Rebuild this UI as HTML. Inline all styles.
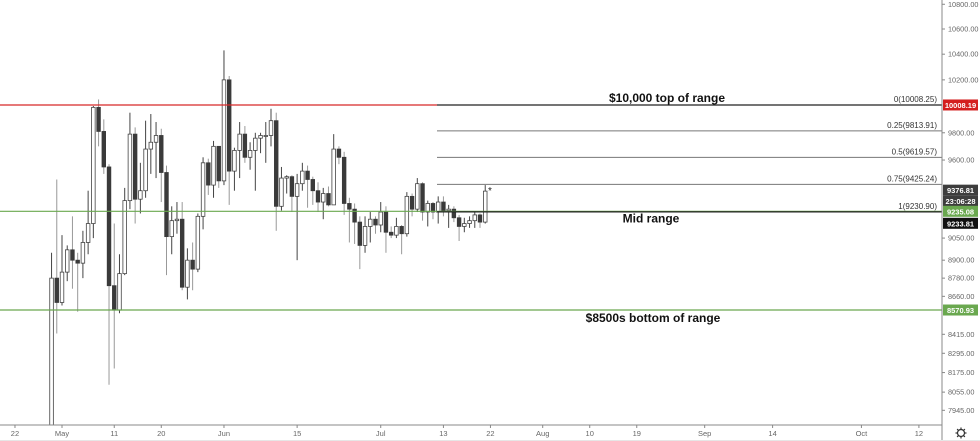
<!DOCTYPE html>
<html><head><meta charset="utf-8"><style>
body{margin:0;background:#fff;font-family:"Liberation Sans",sans-serif}
svg{display:block}
</style></head><body>
<svg id="c" width="980" height="441" xmlns="http://www.w3.org/2000/svg">
<rect width="980" height="441" fill="#fff"/>
<g id="candles"></g>
<g id="overlay"></g>
<g id="axes"></g>
</svg>
<script>
const dates=["Apr29","Apr30","May1","May2","May3","May4","May5","May6","May7","May8","May9","May10","May11","May12","May13","May14","May15","May16","May17","May18","May19","May20","May21","May22","May23","May24","May25","May26","May27","May28","May29","May30","May31","Jun1","Jun2","Jun3","Jun4","Jun5","Jun6","Jun7","Jun8","Jun9","Jun10","Jun11","Jun12","Jun13","Jun14","Jun15","Jun16","Jun17","Jun18","Jun19","Jun20","Jun21","Jun22","Jun23","Jun24","Jun25","Jun26","Jun27","Jun28","Jun29","Jun30","Jul1","Jul2","Jul3","Jul4","Jul5","Jul6","Jul7","Jul8","Jul9","Jul10","Jul11","Jul12","Jul13","Jul14","Jul15","Jul16","Jul17","Jul18","Jul19","Jul20","Jul21"];
const opens=[7760,8780,8620,8820,8970,8900,8880,9020,9150,9990,9810,9550,8730,8570,8810,9310,9790,9320,9380,9680,9730,9780,9510,9060,9170,9180,8720,8900,8840,9200,9580,9420,9700,9450,10200,9520,9670,9790,9620,9670,9760,9780,9780,9890,9270,9470,9480,9340,9430,9520,9460,9380,9300,9360,9280,9680,9620,9290,9250,9160,9000,9130,9180,9140,9230,9090,9070,9130,9080,9340,9250,9430,9230,9290,9230,9300,9240,9250,9190,9130,9150,9170,9210,9160];
const highs=[8950,9460,9070,9000,9200,8950,9100,9380,10000,10050,9900,9570,9150,8940,9400,9950,9840,9580,9890,9940,9880,9830,9560,9270,9300,9300,8980,9020,9220,9620,9610,9740,9700,10430,10230,9690,9880,9850,9730,9800,9800,9880,9980,9950,9550,9490,9490,9500,9580,9560,9480,9440,9400,9410,9790,9700,9660,9330,9290,9200,9200,9230,9200,9300,9270,9130,9190,9140,9370,9360,9470,9440,9310,9300,9340,9340,9280,9270,9210,9190,9200,9230,9220,9420];
const lows=[7730,8420,8600,8760,8710,8560,8780,8940,9050,9700,9500,8100,8200,8550,8800,9250,9150,9220,9330,9500,9470,9300,8800,8940,9080,8700,8640,8700,8820,9110,9350,9330,9400,9420,9280,9380,9470,9580,9530,9380,9650,9580,9700,9100,9240,9360,9230,8900,9380,9260,9280,9230,9180,9270,9280,9570,9210,9020,9010,8840,8950,9020,9080,9090,8950,9050,9050,8940,9060,9200,9230,9170,9130,9180,9150,9200,9120,9160,9030,9090,9120,9120,9120,9150];
const closes=[8780,8620,8820,8970,8900,8880,9020,9150,9990,9810,9550,8730,8570,8810,9310,9790,9320,9380,9680,9730,9780,9510,9060,9170,9180,8720,8900,8840,9200,9580,9420,9700,9450,10200,9520,9670,9790,9620,9670,9760,9780,9780,9890,9270,9470,9480,9340,9430,9520,9460,9380,9300,9360,9280,9680,9620,9290,9250,9160,9000,9130,9180,9140,9230,9090,9070,9130,9080,9340,9250,9430,9230,9290,9230,9300,9240,9250,9190,9130,9150,9170,9210,9160,9377];
const priceTicks=["10800.00","10600.00","10400.00","10200.00","9800.00","9600.00","9050.00","8900.00","8780.00","8660.00","8415.00","8295.00","8175.00","8055.00","7945.00"];
const xTickLabels=["22","May","11","20","Jun","15","Jul","13","22","Aug","10","19","Sep","14","Oct","12"];
const xTickDays=[-9,0,10,19,31,45,61,73,82,92,101,110,123,136,153,164];
const fibLevels=[10008.25,9813.91,9619.57,9425.24,9230.90];
const fibNames=["0","0.25","0.5","0.75","1"];

const NS="http://www.w3.org/2000/svg";
const PPD=5.225, X0=62, PLOT_R=942, AXIS_Y=425;
function xDay(d){return X0+PPD*d;}
function y(p){return 105-(Math.log(p)-Math.log(10008))*1322.6;}
function mk(tag,attrs,parent){const e=document.createElementNS(NS,tag);for(const k in attrs)e.setAttribute(k,attrs[k]);parent.appendChild(e);return e;}
const cg=document.getElementById('candles'),og=document.getElementById('overlay'),ag=document.getElementById('axes');

let l=mk('line',{x1:0,x2:437,y1:y(10008.19),y2:y(10008.19),stroke:'#d62828','stroke-width':1.3},og);

l=mk('line',{x1:0,x2:PLOT_R,y1:y(9235.08),y2:y(9235.08),stroke:'#6aa84f','stroke-width':1.2},og);

l=mk('line',{x1:0,x2:PLOT_R,y1:y(8570.93),y2:y(8570.93),stroke:'#6aa84f','stroke-width':1.2},og);

fibLevels.forEach((v,i)=>{
  const col=(i==0||i==4)?'#222':'#777';
  const ln=mk('line',{x1:437,x2:PLOT_R,y1:y(v),y2:y(v),stroke:col,'stroke-width':(i==0||i==4)?1.3:1},og);
  
  
  const t=mk('text',{x:937,y:y(v)-3,'text-anchor':'end','font-size':8,fill:'#333'},og);
  t.textContent=fibNames[i]+'('+v.toFixed(2)+')';
  
  
});

dates.forEach((d,i)=>{
  const x=xDay(i-2),o=opens[i],c=closes[i],up=c>=o;
  const g=mk('g',{},cg);
  
  
  mk('line',{x1:x,x2:x,y1:y(highs[i]),y2:Math.min(y(lows[i]),AXIS_Y),stroke:up?'#444':'#999','stroke-width':1},g);
  const top=y(Math.max(o,c)),bot=Math.min(y(Math.min(o,c)),AXIS_Y);
  mk('rect',{x:x-1.8,y:top,width:3.6,height:Math.max(bot-top,1),fill:up?'#fff':'#3a3a3a',stroke:up?'#444':'#3a3a3a','stroke-width':0.8},g);
});

const notes=[["$10,000 top of range",667,y(10008)-3],["Mid range",651,y(9235)+11],["$8500s bottom of range",653,y(8571)+12]];
notes.forEach(n=>{const t=mk('text',{x:n[1],y:n[2],'text-anchor':'middle','font-size':12,'font-weight':'bold',fill:'#111'},og);t.textContent=n[0];
});
let st=mk('text',{x:488,y:194,'font-size':10,fill:'#222'},og);st.textContent='*';


mk('line',{x1:0,x2:PLOT_R,y1:AXIS_Y,y2:AXIS_Y,stroke:'#888','stroke-width':1},ag);
mk('line',{x1:PLOT_R,x2:PLOT_R,y1:0,y2:441,stroke:'#888','stroke-width':1},ag);
mk('line',{x1:0,x2:980,y1:440.5,y2:440.5,stroke:'#e6e6e6','stroke-width':1},ag);
priceTicks.forEach(p=>{const yy=y(parseFloat(p));
  mk('line',{x1:PLOT_R,x2:PLOT_R+3,y1:yy,y2:yy,stroke:'#888'},ag);
  const t=mk('text',{x:PLOT_R+6,y:yy+2.5,'font-size':7.3,fill:'#666'},ag);t.textContent=p;
  });
xTickLabels.forEach((s,i)=>{const x=xDay(xTickDays[i]);
  mk('line',{x1:x,x2:x,y1:AXIS_Y,y2:AXIS_Y+3,stroke:'#888'},ag);
  const t=mk('text',{x:x,y:436,'text-anchor':'middle','font-size':7.5,fill:'#666'},ag);t.textContent=s;
  });
const badges=[["10008.19",y(10008.19),'#d41f1f'],["9376.81",y(9376.81)-1,'#3d3d3d'],["23:06:28",y(9376.81)+10,'#3d3d3d'],["9235.08",y(9235.08),'#6aa84f'],["9233.81",y(9235.08)+12,'#111']];
badges.push(["8570.93",y(8570.93),'#6aa84f']);
badges.forEach(b=>{const g=mk('g',{},ag);
  
  mk('rect',{x:PLOT_R+1,y:b[1]-5.5,width:35,height:11,fill:b[2]},g);
  const t=mk('text',{x:PLOT_R+18.5,y:b[1]+3,'text-anchor':'middle','font-size':7.5,'font-weight':'bold',fill:'#fff'},g);t.textContent=b[0];});
const gear=mk('g',{},ag);

mk('circle',{cx:961,cy:433,r:3.5,fill:'none',stroke:'#333','stroke-width':1.2},gear);
for(let a=0;a<8;a++){const r=a*Math.PI/4;mk('line',{x1:961+3.5*Math.cos(r),y1:433+3.5*Math.sin(r),x2:961+5.5*Math.cos(r),y2:433+5.5*Math.sin(r),stroke:'#333','stroke-width':1.2},gear);}
</script>
</body></html>
